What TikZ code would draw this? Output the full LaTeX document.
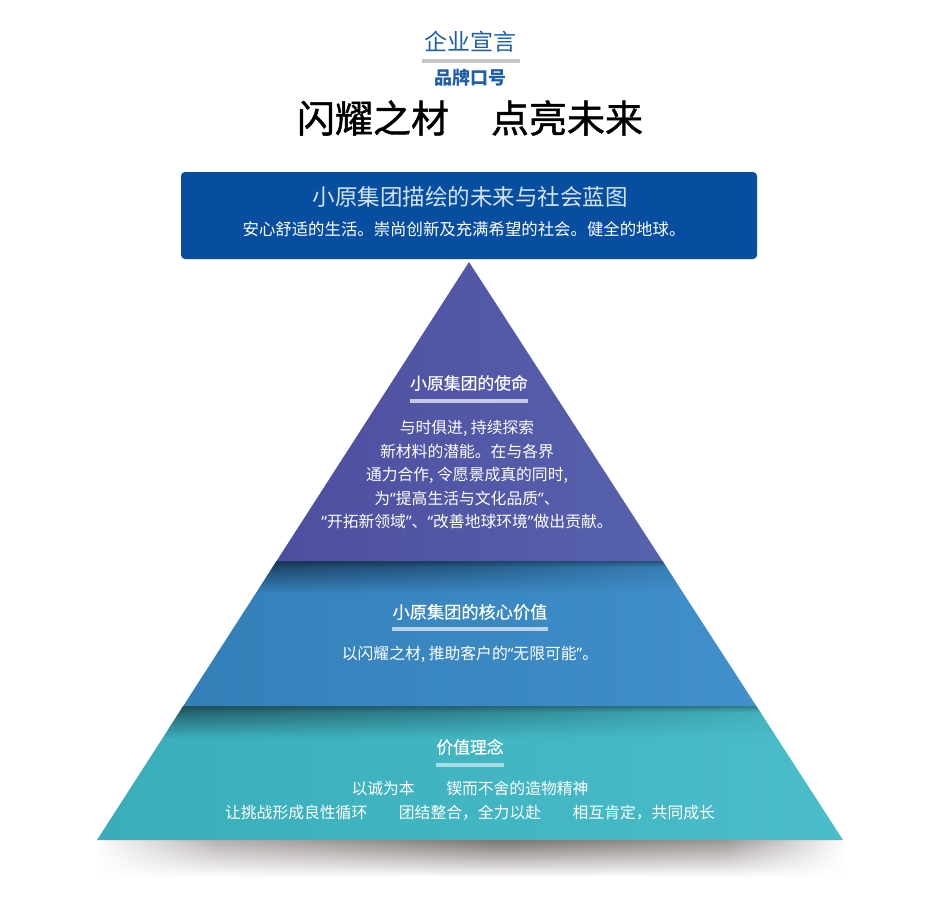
\documentclass[tikz,border=0pt]{standalone}
\usepackage{fontspec}
\setmainfont{Noto Sans CJK SC}
\newfontfamily\heavycjk{Noto Sans CJK SC}[FakeBold=1.2]
\newfontfamily\semicjk{Noto Sans CJK SC}[FakeBold=0.4]
\newfontfamily\quotefont{Noto Sans}
\newcommand{\oq}{{\quotefont “}}
\newcommand{\cq}{{\quotefont ”}}
\usetikzlibrary{calc,fadings}
\definecolor{sloganblue}{HTML}{1F5EA8}
\definecolor{boxblue}{HTML}{084EA0}
\definecolor{boxtitle}{HTML}{D2E4F6}
\definecolor{barpurple}{HTML}{C6C8E4}
\definecolor{barblue}{HTML}{B8D2EC}
\definecolor{barteal}{HTML}{A9DDE4}
\definecolor{topleft}{HTML}{4D4E9F}
\definecolor{topright}{HTML}{5762AD}
\definecolor{midleft}{HTML}{3380B9}
\definecolor{midright}{HTML}{418FCB}
\definecolor{lowleft}{HTML}{39ADBA}
\definecolor{lowright}{HTML}{4BBDCA}
\definecolor{darknavy}{HTML}{16304C}
\definecolor{darkteal}{HTML}{1E4A55}
\definecolor{shadowgray}{HTML}{7D7472}
\tikzfading[name=fadedown, top color=transparent!0, bottom color=transparent!100]
\pgfdeclarehorizontalshading{baseshadow}{100bp}{color(0bp)=(white); color(25bp)=(white);
  color(33bp)=(shadowgray!55); color(52bp)=(shadowgray); color(67bp)=(shadowgray!75);
  color(75bp)=(white); color(100bp)=(white)}

\begin{document}
\begin{tikzpicture}[x=0.5pt,y=-0.5pt,
  every node/.style={inner sep=0pt},
  headtext/.style={text=white, font=\semicjk\fontsize{8.4}{10}\selectfont},
  bodytext/.style={text=white, align=center, font=\fontsize{7.9}{11.75}\selectfont},
  titlebar/.style={line width=2pt, #1}]

    \useasboundingbox[fill=white] (0,0) rectangle (940,900);

    % Ecken der Pyramide
    \coordinate (apex) at (469,262);
    \coordinate (bl) at (97,840);
    \coordinate (br) at (843,840);
    \coordinate (ml) at ($(apex)!0.5173!(bl)$);
    \coordinate (mr) at ($(apex)!0.5173!(br)$);
    \coordinate (ll) at ($(apex)!0.7682!(bl)$);
    \coordinate (lr) at ($(apex)!0.7682!(br)$);

    % Schatten unter der Basis
    \shade[shading=baseshadow, path fading=fadedown] (95,840) rectangle (845,877);

    % Drei Schichten
    \shade[left color=topleft, right color=topright] (apex) -- (mr) -- (ml) -- cycle;
    \shade[left color=midleft, right color=midright] (ml) -- (mr) -- (lr) -- (ll) -- cycle;
    \shade[left color=lowleft, right color=lowright] (ll) -- (lr) -- (br) -- (bl) -- cycle;

    % Schatten an den Kanten
    \begin{scope}
        \clip (ml) -- (mr) -- (lr) -- (ll) -- cycle;
        \shade[left color=darknavy, right color=midright, middle color=darknavy!55!midleft, path fading=fadedown] (180,561) rectangle (760,593);
        \fill[darknavy, opacity=0.5, path fading=fadedown] (180,561) rectangle (760,567);
    \end{scope}
    \begin{scope}
        \clip (ll) -- (lr) -- (br) -- (bl) -- cycle;
        \shade[left color=darkteal, right color=lowright, middle color=darkteal!50!lowleft, path fading=fadedown] (90,706) rectangle (850,738);
        \fill[darkteal, opacity=0.5, path fading=fadedown] (90,706) rectangle (850,712);
    \end{scope}

    % Kopfzeilen
    \node[text=sloganblue, font=\fontsize{11.5}{14}\selectfont] (slogan) at (470,42) {企业宣言};
    \draw[titlebar=black!22] ($(slogan.west)+(-2,19)$) -- ($(slogan.east)+(4,19)$);
    \node[text=sloganblue, font=\fontsize{9}{11}\selectfont\bfseries] (brand) at (470,78) {品牌口号};
    \node[text=black, font=\heavycjk\fontsize{19}{22}\selectfont] (motto) at (470,118) {闪耀之材\hspace{21pt}点亮未来};

    % Blauer Kasten
    \node[fill=boxblue, rounded corners=2pt, minimum width=288pt, minimum height=43.5pt] (vision) at (469,215.5) {};
    \node[text=boxtitle, font=\fontsize{11.25}{13}\selectfont] (visiontitle) at (470,197) {小原集团描绘的未来与社会蓝图};
    \node[text=white, font=\fontsize{8.2}{10}\selectfont] (visiontext) at (464,229) {安心舒适的生活。崇尚创新及充满希望的社会。健全的地球。};

    % Oberste Schicht
    \node[headtext] (mission) at (469,383) {小原集团的使命};
    \draw[titlebar=barpurple] ($(mission.west)+(0,18)$) -- ($(mission.east)+(0,18)$);
    \node[bodytext] (missiontext) at (467,475) {与时俱进, 持续探索\\新材料的潜能。在与各界\\通力合作, 令愿景成真的同时,\\为\oq 提高生活与文化品质\cq 、\\\oq 开拓新领域\cq 、\oq 改善地球环境\cq 做出贡献。};

    % Mittlere Schicht
    \node[headtext, font=\semicjk\fontsize{8.6}{10}\selectfont] (corevalue) at (470,612) {小原集团的核心价值};
    \draw[titlebar=barblue] ($(corevalue.west)+(0,17)$) -- ($(corevalue.east)+(0,17)$);
    \node[bodytext] (corevaluetext) at (470,654) {以闪耀之材, 推助客户的\oq 无限可能\cq 。};

    % Untere Schicht
    \node[headtext] (philosophy) at (470,747) {价值理念};
    \draw[titlebar=barteal] ($(philosophy.west)+(0,18)$) -- ($(philosophy.east)+(0,18)$);
    \node[bodytext] (philosophytext) at (470,800.5) {以诚为本\hspace{2em}锲而不舍的造物精神\\让挑战形成良性循环\hspace{2em}团结整合，全力以赴\hspace{2em}相互肯定，共同成长};

\end{tikzpicture}
\end{document}
